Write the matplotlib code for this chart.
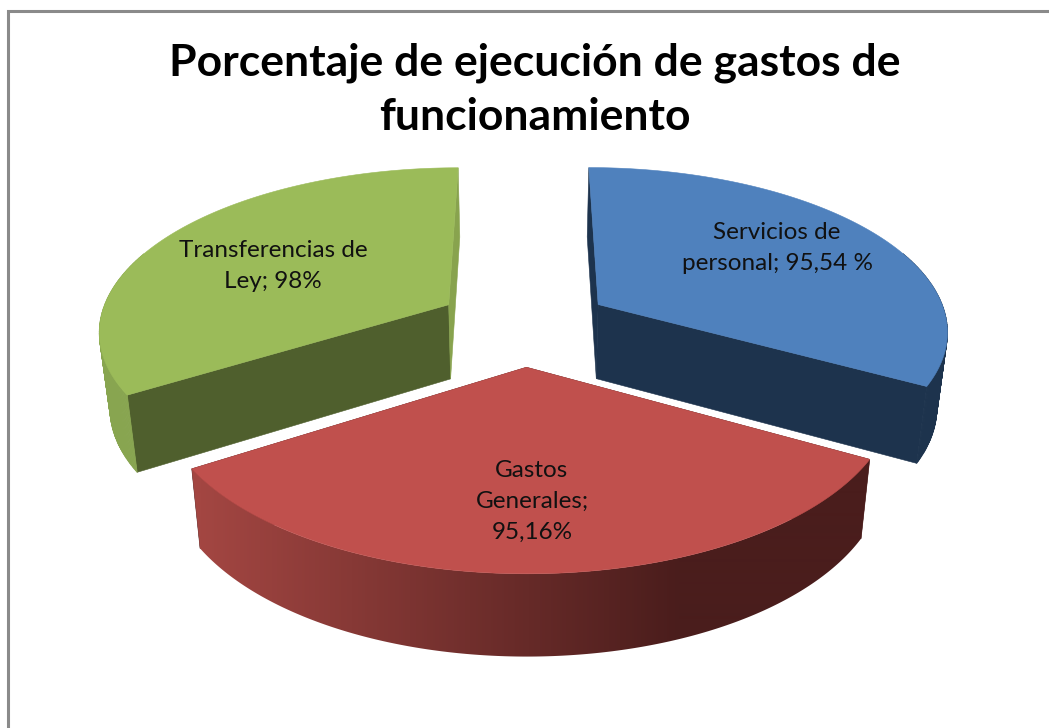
import numpy as np
import matplotlib
matplotlib.use("Agg")
import matplotlib.pyplot as plt
from matplotlib.colors import LinearSegmentedColormap
from matplotlib.patches import Polygon

title = "Porcentaje de ejecución de gastos de\nfuncionamiento"
names = ["Servicios de\npersonal; 95,54 %", "Gastos\nGenerales;\n95,16%", "Transferencias de\nLey; 98%"]
values = [95.54, 95.16, 98.0]

top_colors = ["#4F81BD", "#C0504D", "#9BBB59"]
cut_start_colors = ["#1D334D", "#4E1F1E", "#4F5F2D"]
cut_end_colors = ["#1D334D", "#4E1F1E", "#88A34E"]
rim_colors = ["#1D334D", "#4E1F1E", "#88A550"]

# red rim goes from light to dark, left to right
RED_RIM_LIGHT = "#A34642"
RED_RIM_DARK = "#4A1D1C"
GRADIENT_FROM = 200
GRADIENT_TO = 680

# how far each slice is pulled out, sideways and in depth
explode_x = [0.25, 0.25, 0.25]
explode_y = [0.314, 0.22, 0.326]

label_x = [777, 532, 273]
label_y = [248, 501, 266]

# camera used to fake the 3D look
CENTER_X = 524
HORIZON_Y = 330
SCALE_X = 352
SCALE_Y = 164
PERSPECTIVE = 0.147
DEPTH = 75
BOTTOM_SHRINK = 0.975


def project(x, y, bottom=False):
    d = 1 + PERSPECTIVE * y
    if bottom:
        return CENTER_X + BOTTOM_SHRINK * SCALE_X * x / d, HORIZON_Y - SCALE_Y * y / d + DEPTH / np.sqrt(d)
    return CENTER_X + SCALE_X * x / d, HORIZON_Y - SCALE_Y * y / d


fig = plt.figure(figsize=(10.49, 7.28), dpi=100)
ax = fig.add_axes([0, 0, 1, 1])

# chart frame, only top and left are in the crop
ax.plot([1049, 7.5, 7.5], [10.5, 10.5, 728], color="#8A8A8A", lw=2.2, solid_joinstyle="miter")

shares = np.array(values) / sum(values) * 2 * np.pi
ends = np.cumsum(shares)
starts = ends - shares

# back slices first, the red one sits in front
for n, i in enumerate([0, 2, 1]):
    z = 2 + 3 * n
    mid = (starts[i] + ends[i]) / 2
    ox = explode_x[i] * np.sin(mid)
    oy = explode_y[i] * np.cos(mid)
    t = np.linspace(starts[i], ends[i], 200)
    wx = ox + np.sin(t)
    wy = oy + np.cos(t)

    top_x, top_y = project(wx, wy)
    bot_x, bot_y = project(wx, wy, bottom=True)
    apex_x, apex_y = project(ox, oy)
    apex_bx, apex_by = project(ox, oy, bottom=True)

    # flat cut faces
    ax.fill([apex_x, top_x[0], bot_x[0], apex_bx], [apex_y, top_y[0], bot_y[0], apex_by],
            color=cut_start_colors[i], lw=0.4, zorder=z)
    ax.fill([apex_x, top_x[-1], bot_x[-1], apex_bx], [apex_y, top_y[-1], bot_y[-1], apex_by],
            color=cut_end_colors[i], lw=0.4, zorder=z)

    # outer rim, only the part that faces us
    front = np.flatnonzero(np.cos(t) < 0.35)
    if i == 1:
        # gradient clipped to the rim outline
        rim = np.c_[np.r_[top_x[front], bot_x[front][::-1]], np.r_[top_y[front], bot_y[front][::-1]]]
        clip = Polygon(rim, closed=True, transform=ax.transData, fc="none", ec="none")
        ax.add_patch(clip)
        xs = np.arange(0, 1049)
        shade = np.clip((xs - GRADIENT_FROM) / (GRADIENT_TO - GRADIENT_FROM), 0, 1)
        cmap = LinearSegmentedColormap.from_list("rim", [RED_RIM_LIGHT, RED_RIM_DARK])
        im = ax.imshow(shade[None, :], cmap=cmap, vmin=0, vmax=1, aspect="auto",
                       extent=[0, 1049, 728, 0], zorder=z + 1, interpolation="bilinear")
        im.set_clip_path(clip)
    else:
        # flat colour, a strip of small quads keeps the outline where the arcs cross
        for k in front[:-1]:
            ax.fill([top_x[k], top_x[k + 1], bot_x[k + 1], bot_x[k]],
                    [top_y[k], top_y[k + 1], bot_y[k + 1], bot_y[k]],
                    color=rim_colors[i], lw=0.6, zorder=z + 1)

    ax.fill(np.r_[apex_x, top_x], np.r_[apex_y, top_y], color=top_colors[i], lw=0.4, zorder=z + 2)

    ax.text(label_x[i], label_y[i], names[i], ha="center", va="center", fontsize=17.5,
            family="Lato", color="#111111", linespacing=1.58, zorder=20)

ax.text(535, 90, title, ha="center", va="center", fontsize=32, fontweight="bold",
        family="Lato", color="black", linespacing=1.41)

ax.set_xlim(0, 1049)
ax.set_ylim(728, 0)
ax.axis("off")

fig.savefig("out.png", dpi=100)
